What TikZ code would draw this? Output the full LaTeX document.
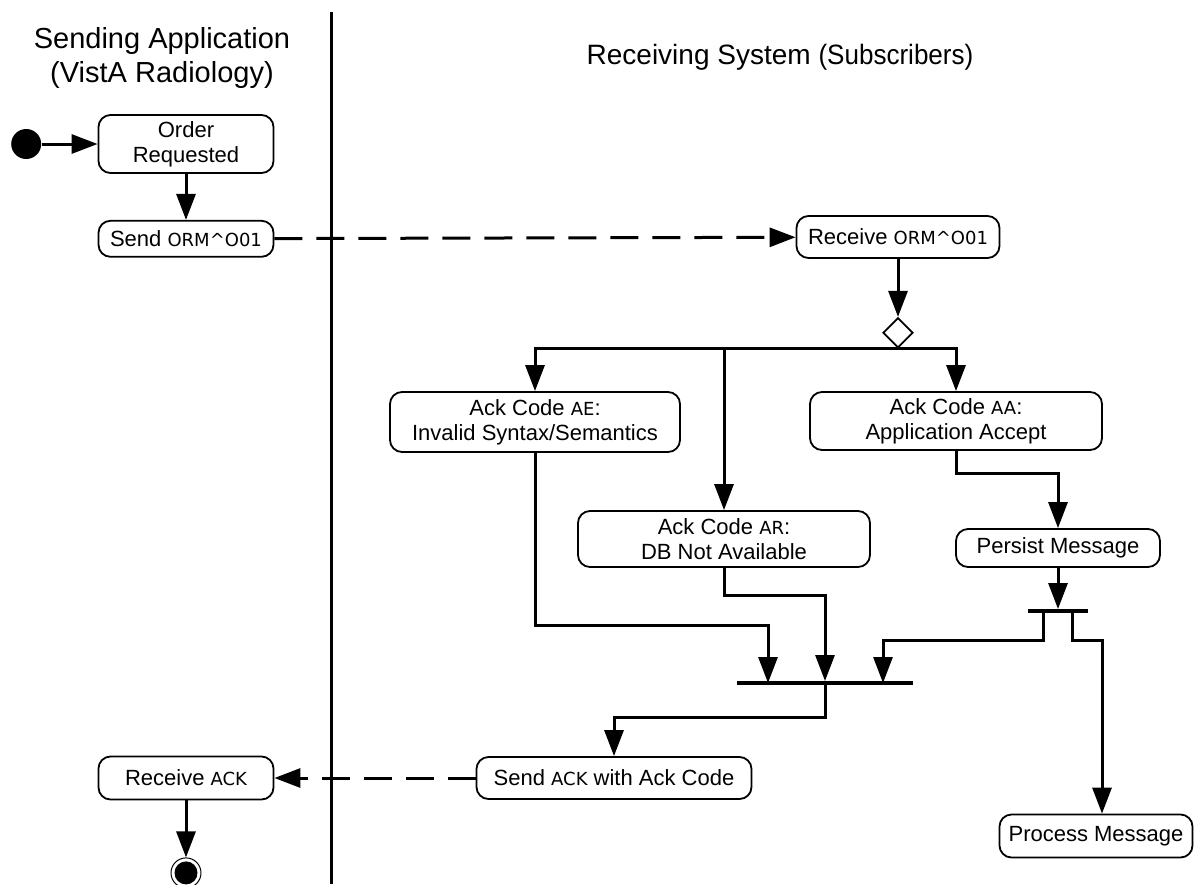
\documentclass[tikz,border=0pt]{standalone}
\usepackage{fontspec}
\setmainfont{Liberation Sans}
\newfontfamily\codefont{DejaVu Sans}
\usetikzlibrary{positioning, arrows.meta, shapes.geometric}
\newcommand{\cd}[1]{{\codefont\fontsize{9}{11}\selectfont #1}}

\begin{document}
\begin{tikzpicture}[x=0.5pt, y=-0.5pt,
	flow/.style={-{Triangle[width=9.5pt,length=13pt]}, line width=1.5pt},
	msg/.style={flow, dash pattern=on 14pt off 7pt},
	bar/.style={fill=black, inner sep=0pt, minimum height=1.6pt}]
	\useasboundingbox (0,0) rectangle (1194,884);

	% swimlane titles and divider
	\node[font=\fontsize{14.5}{17}\selectfont, align=center] (lsnd) at (162,58) {Sending Application\\(VistA Radiology)};
	\node[font=\fontsize{14}{17}\selectfont] (lrcv) at (780,57) {Receiving System \scalebox{0.93}[1]{(Subscribers)}};
	\coordinate (top) at (331,12);
	\coordinate (bot) at (331,884);
	\draw[line width=1.5pt] (top) -- (bot);

	% action states
	\begin{scope}[every node/.style={draw, rounded corners=6pt, line width=0.9pt, align=center, inner sep=1pt, font=\fontsize{11}{12.5}\selectfont}]
	\node[minimum width=87.5pt, minimum height=29pt]                   (ord)  at (186,144) {Order\\Requested};
	\node[minimum width=87.5pt, minimum height=18pt, below=23pt of ord] (snd)  {Send \cd{ORM\textasciicircum O01}};
	\node[minimum width=101.5pt, minimum height=21pt]                  (rcv)  at (898,237) {Receive \cd{ORM\textasciicircum O01}};
	\node[minimum width=145pt, minimum height=30pt]                    (ae)   at (535,422) {Ack Code \cd{AE}:\\Invalid Syntax/Semantics};
	\node[minimum width=146pt, minimum height=29pt]                    (aa)   at (956,421) {Ack Code \cd{AA}:\\Application Accept};
	\node[minimum width=146pt, minimum height=28pt]                    (ar)   at (724,539) {Ack Code \cd{AR}:\\DB Not Available};
	\node[minimum width=102pt, minimum height=19pt]                    (per)  at (1058,548) {Persist Message};
	\node[minimum width=96.5pt, minimum height=21.5pt]                 (proc) at (1096,836) {Process Message};
	\node[minimum width=137.5pt, minimum height=21pt]                  (sack) at (614,778) {Send \cd{ACK} with Ack Code};
	\node[minimum width=87.5pt, minimum height=21.5pt]                 (rack) at (186,778) {Receive \cd{ACK}};
	\end{scope}

	% initial, final, decision and bars
	\node[circle, fill=black, minimum size=15pt, inner sep=0pt, left=28pt of ord] (ini) {};
	\node[circle, draw, line width=0.5pt, minimum size=15pt, inner sep=0pt, below=28.5pt of rack] (fin) {};
	\fill (fin.center) circle[radius=5.75pt];
	\node[diamond, draw, line width=0.9pt, minimum size=15pt, inner sep=0pt, below=29pt of rcv] (dec) {};
	\node[bar, minimum width=88pt] (join) at (825,683) {};
	\node[bar, minimum width=30pt] (fork) at (1058,611) {};
	\coordinate (j1) at (768,683);
	\coordinate (j3) at (883,683);
	\coordinate (f1) at (1043,611);
	\coordinate (f2) at (1072,611);

	\draw[flow] (ini) -- (ord);
	\draw[flow] (ord) -- (snd);
	\draw[msg]  (snd) -- (rcv);
	\draw[flow] (rcv) -- (dec);
	\draw[flow] (dec.south) -| (ae);
	\draw[flow] (dec.south) -| (aa);
	\draw[flow] (dec.south -| ar) -- (ar);
	\draw[flow] (ae.south) -- ++(0,173) -| (j1);
	\draw[flow] (ar.south) -- ++(0,28) -| (join.north);
	\draw[flow] (aa.south) -- ++(0,23) -| (per);
	\draw[flow] (per) -- (fork);
	\draw[flow] (f1) -- ++(0,29) -| (j3);
	\draw[flow] (f2) -- ++(0,29) -| ([xshift=3pt]proc.north);
	\draw[flow] (join.south) -- ++(0,32) -| (sack);
	\draw[msg]  (sack) -- (rack);
	\draw[flow] (rack) -- (fin);

\end{tikzpicture}
\end{document}
